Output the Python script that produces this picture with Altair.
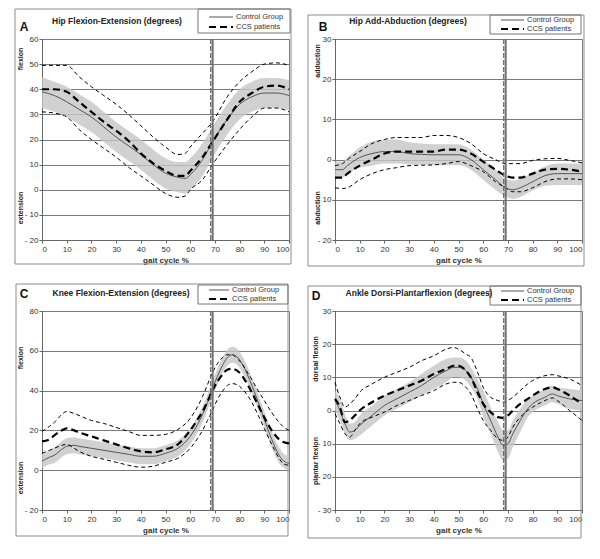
import altair as alt
import pandas as pd

FONT = "Liberation Sans"

# ---------------- Panel A: Hip Flexion-Extension ----------------
a_x = [0, 5, 10, 15, 20, 25, 30, 35, 40, 45, 50, 55, 58, 60, 65, 69, 75, 80, 85, 90, 95, 100]
a_ctrl_mean = [39, 37.5, 35, 32, 29, 25, 21, 17.5, 14, 10, 6.6, 5, 4.5, 6, 12, 19, 28, 34, 37, 38.5, 38.5, 37.5]
a_ctrl_hi = [44.8, 43, 41, 38, 35, 31, 27, 23.5, 20, 16, 12.5, 11, 11, 12.5, 18.5, 25, 34, 40, 43, 44.5, 44.5, 43.5]
a_ctrl_lo = [32.5, 31, 29, 26, 23, 19, 15, 11.5, 8, 4, 0.5, -1, -1.5, 0, 5.5, 12.5, 22, 28, 31, 32.5, 32.5, 31.5]
a_ccs_mean = [40, 40, 39, 35, 31, 27, 23.5, 19.5, 14.5, 10.5, 7.5, 5.5, 5.5, 7.5, 13, 19, 28, 35, 38.5, 41, 41.5, 40]
a_ccs_hi = [49.5, 49.5, 49.5, 45, 41, 37.5, 34, 30, 25.5, 21, 17, 14, 14.5, 17, 22.5, 27, 37, 43, 47, 50, 50.5, 49.5]
a_ccs_lo = [31, 30.5, 29, 24, 20, 16.5, 13, 9, 5.5, 2, -1.5, -3, -2.5, 0, 4, 10, 18, 24, 29, 32.5, 32.5, 31]

# ---------------- Panel B: Hip Add-Abduction ----------------
b_x = [0, 3, 5, 10, 15, 20, 25, 30, 35, 40, 45, 50, 55, 60, 65, 69, 72, 75, 80, 85, 90, 95, 100]
b_ctrl_mean = [-2.5, -2.5, -1.5, 0.5, 1.5, 2, 2, 1.5, 1.3, 1.2, 1.2, 1.2, 0, -2.5, -5, -7, -7.5, -7, -5.5, -4, -3.5, -3.5, -3.5]
b_ctrl_hi = [-0.5, -0.5, 0.5, 3, 4.5, 5, 5, 4.3, 4, 3.8, 3.8, 3.8, 2.5, 0, -2.5, -4.8, -5.2, -4.8, -3.3, -1.7, -1, -1, -1]
b_ctrl_lo = [-4.5, -4.5, -3.5, -2, -1.5, -1, -1, -1.2, -1.3, -1.4, -1.4, -1.4, -2.5, -5, -7.5, -9.2, -9.8, -9.3, -7.7, -6.5, -6.3, -6.3, -6.3]
b_ccs_mean = [-4.5, -4.5, -3.5, -1.5, 0, 1.5, 2, 2, 2, 2, 2.5, 2.5, 1.5, -0.5, -2.5, -4, -4.5, -4.5, -3.5, -2.5, -2.3, -2.5, -3]
b_ccs_hi = [-1.5, -1, 0, 2, 4, 5, 5.5, 5.5, 5.5, 6, 6, 5.5, 4, 1.5, 0, -1, -1, -1, -0.2, 0.2, 0.3, -0.2, -0.8]
b_ccs_lo = [-7, -7.2, -7, -5, -3.5, -2.5, -2, -1.5, -1.4, -1.3, -1, -0.5, -1.5, -3, -5.5, -7, -8, -8, -7, -5.5, -4.8, -4.8, -5]

# ---------------- Panel C: Knee Flexion-Extension ----------------
c_x = [0, 3, 5, 8, 10, 13, 15, 20, 25, 30, 35, 40, 45, 50, 55, 60, 63, 65, 67, 69, 71, 73, 75, 77, 79, 81, 83, 85, 87, 90, 93, 96, 98, 100]
c_ctrl_mean = [4.5, 6.5, 7.5, 10.5, 12, 12.5, 12, 11, 10, 9, 8, 7, 7, 8.5, 11, 17, 23, 28, 34, 41, 47, 52.5, 56.5, 58, 57, 53.5, 48.5, 42.5, 36, 25.5, 15.5, 7.5, 4.5, 3.5]
c_ctrl_hi = [8, 10, 11.5, 14.5, 16, 16.5, 16, 15, 14, 13, 12, 11, 11, 12.5, 15, 21, 27, 32, 38, 45, 51, 56.5, 60.5, 62, 61, 57.5, 52.5, 46.5, 40, 29.5, 19.5, 11.5, 8, 7]
c_ctrl_lo = [1, 3, 3.5, 6.5, 8, 8.5, 8, 7, 6, 5, 4, 3, 3, 4.5, 7, 13, 19, 24, 30, 37, 43, 48.5, 52.5, 54, 53, 49.5, 44.5, 38.5, 32, 21.5, 11.5, 3.5, 1, 0]
c_ccs_mean = [14.5, 15.5, 17.5, 20, 21, 20, 19, 17, 15, 13, 11, 9.5, 9, 10.5, 13, 20, 25.5, 29.5, 34.5, 40, 44.5, 48, 50.5, 51, 50, 47.5, 43.5, 39, 34, 26.5, 20, 15.5, 14, 13.5]
c_ccs_hi = [19.5, 22, 24, 28, 29.5, 28.5, 27.5, 25, 23.5, 21.5, 19.5, 17.5, 17.5, 18, 20.5, 26, 32, 37, 43, 49, 53.5, 56.5, 58, 58, 56, 53.5, 49.5, 45.5, 41, 35, 29, 24, 21.5, 20]
c_ccs_lo = [8.5, 10, 11, 12.5, 13, 11, 9.5, 7, 5.5, 4, 2.5, 1.5, 2, 4, 6, 11, 16, 20, 25, 30, 35.5, 39.5, 42.5, 43.5, 43, 41, 38, 34, 29, 21, 13, 6, 3, 2.5]

# ---------------- Panel D: Ankle Dorsi-Plantarflexion ----------------
d_x = [0, 2, 4, 6, 8, 10, 15, 20, 25, 30, 35, 40, 45, 48, 50, 53, 55, 58, 60, 63, 66, 68, 70, 72, 75, 78, 80, 85, 88, 90, 95, 100]
d_ctrl_mean = [3, 0, -4, -6.5, -6, -4.5, -1.5, 1.5, 3.5, 5.5, 7.5, 10, 12, 13, 13, 12, 10, 6, 2, -3, -8, -10.5, -10, -7, -3, 0.5, 2, 4, 5, 4.5, 3.5, 3]
d_ctrl_hi = [6, 3.5, -1, -4, -3.5, -1.5, 1.5, 4.5, 6.5, 8.5, 11, 13.5, 15.5, 16, 16, 15, 13, 9, 6, 1, -3.5, -6, -6, -3, 0.5, 3.5, 4.5, 6.5, 7.5, 7, 6.5, 6]
d_ctrl_lo = [0, -3, -7, -9, -8.5, -7.5, -4.5, -1.5, 0.5, 2.5, 4.5, 6.5, 8.5, 10, 10, 9, 7, 3, -2, -7, -12.5, -15, -14.5, -11, -6.5, -2, -0.5, 1.5, 2.5, 2, 0.5, 0]
d_ccs_mean = [3.5, 1, -3.5, -3, -1.5, 0, 2.5, 4.5, 6, 7.5, 9, 11, 12.5, 13.5, 13.5, 12, 10, 5, 2, -0.5, -2, -2.2, -1.5, 0, 2, 3.5, 4.5, 6.5, 7, 6.5, 4.5, 2]
d_ccs_hi = [8.5, 4, 1, 2, 3.5, 5.5, 8, 10, 11.5, 13, 15, 16.5, 18.5, 19, 18.5, 17, 16, 11, 7, 4, 3, 2.5, 3, 4, 6, 8, 9, 10.5, 10.8, 10.5, 9.5, 7.5]
d_ccs_lo = [-1, -4, -7, -8, -6, -4, -2, -0.5, 1.5, 3, 4.5, 6, 8, 8.5, 8.5, 7, 5, 0, -3, -6, -8.5, -9, -8, -5, -2, 0, 1, 3, 3.8, 3, 0, -3]

toe_off_dashed = [68.3]
toe_off_solid = [69.1]

x_ticks = [0, 10, 20, 30, 40, 50, 60, 70, 80, 90, 100]
legend_labels = ["Control Group", "CCS patients"]


def one_row():
    return alt.Data(values=[{"k": 1}])


def panel(letter, title, x, cm, chi, clo, pm, phi, plo, ydom, ystep,
          side_top, side_bot, W, H, g):
    df = pd.DataFrame(dict(x=x, cm=cm, chi=chi, clo=clo, pm=pm, phi=phi, plo=plo))
    xaxis = alt.Axis(values=x_ticks, grid=False, title="gait cycle %", labelOverlap=False,
                     labelFontSize=8, labelPadding=2, tickSize=3,
                     titleFontSize=8, titleFontWeight="bold", titlePadding=3,
                     titleColor="#333333")
    xscale = alt.Scale(domain=[0, 100], nice=False, zero=False)
    yvals = list(range(ydom[0], ydom[1] + 1, ystep))
    yaxis = alt.Axis(values=yvals, grid=True, gridColor="#7a7a7a", gridWidth=1, title=None,
                     labelOverlap=False, labelFontSize=8, labelPadding=1, tickSize=3,
                     labelExpr="datum.value < 0 ? '- ' + abs(datum.value) : datum.label")
    yscale = alt.Scale(domain=ydom, nice=False, zero=False)

    def X(f="x"):
        return alt.X(f + ":Q", scale=xscale, axis=xaxis)

    def Y(f):
        return alt.Y(f + ":Q", scale=yscale, axis=yaxis)

    base = alt.Chart(df)
    band = base.mark_area(color="#c6c6c6", opacity=0.8, interpolate="monotone").encode(
        x=X(), y=Y("clo"), y2="chi:Q")
    ctrl = base.mark_line(color="#555555", strokeWidth=1, interpolate="monotone").encode(
        x=X(), y=Y("cm"))
    ccs_hi = base.mark_line(color="#000000", strokeWidth=1, strokeDash=[4, 3],
                            interpolate="monotone").encode(x=X(), y=Y("phi"))
    ccs_lo = base.mark_line(color="#000000", strokeWidth=1, strokeDash=[4, 3],
                            interpolate="monotone").encode(x=X(), y=Y("plo"))
    ccs = base.mark_line(color="#000000", strokeWidth=2.2, strokeDash=[7, 4],
                         interpolate="monotone").encode(x=X(), y=Y("pm"))

    vdash = alt.Chart(pd.DataFrame({"x": toe_off_dashed})).mark_rule(
        color="#6a6a6a", strokeWidth=1.3, strokeDash=[5, 2]).encode(x=X())
    vsolid = alt.Chart(pd.DataFrame({"x": toe_off_solid})).mark_rule(
        color="#707070", strokeWidth=2).encode(x=X())

    def txt(t, x, y, size, weight="normal", align="center", angle=0, color="#222222"):
        kw = dict(text=t, fontSize=size, fontWeight=weight, align=align,
                  baseline="middle", font=FONT, color=color)
        if angle:
            kw["angle"] = angle
        return alt.Chart(one_row()).mark_text(**kw).encode(x=alt.value(x), y=alt.value(y))

    def rect(x1, x2, y1, y2, stroke="#8a8a8a", width=1):
        return alt.Chart(one_row()).mark_rect(fill="white", fillOpacity=0, stroke=stroke,
                                              strokeWidth=width).encode(
            x=alt.value(x1), x2=alt.value(x2), y=alt.value(y1), y2=alt.value(y2))

    frame = rect(*g["frame"], stroke="#8c8c8c", width=1)
    lbox = rect(*g["lbox"], stroke="#777777", width=1)
    lx1, lx2 = g["lline"]
    ly1, ly2 = g["lrows"]
    leg1 = alt.Chart(one_row()).mark_rule(color="#555555", strokeWidth=1).encode(
        x=alt.value(lx1), x2=alt.value(lx2), y=alt.value(ly1))
    leg2 = alt.Chart(one_row()).mark_rule(color="#000000", strokeWidth=2.2,
                                          strokeDash=[7, 4]).encode(
        x=alt.value(lx1), x2=alt.value(lx2), y=alt.value(ly2))

    layers = [frame, band, ctrl, ccs_hi, ccs_lo, ccs, vdash, vsolid, lbox, leg1, leg2,
              txt(legend_labels[0], g["ltext"], ly1, 7.5, align="left", color="#333333"),
              txt(legend_labels[1], g["ltext"], ly2, 7.5, align="left", color="#333333"),
              txt(title, g["title"][0], g["title"][1], 8.5, weight="bold"),
              txt(letter, g["letter"][0], g["letter"][1], 12, weight="bold", color="#111111"),
              txt(side_top, g["side"][0], g["side"][1], 7, weight="bold", angle=270),
              txt(side_bot, g["side"][0], g["side"][2], 7, weight="bold", angle=270)]
    return alt.layer(*layers).properties(width=W, height=H)


A = panel("A", "Hip Flexion-Extension (degrees)", a_x, a_ctrl_mean, a_ctrl_hi, a_ctrl_lo,
          a_ccs_mean, a_ccs_hi, a_ccs_lo, [-20, 60], 10, "flexion", "extension", 247, 201,
          dict(frame=(-27, 249, -30, 225), lbox=(156, 248, -30, -6), lline=(167, 191),
               lrows=(-22, -12), ltext=194, title=(75, -18), letter=(-18, -12),
               side=(-21, 20, 169)))
B = panel("B", "Hip Add-Abduction (degrees)", b_x, b_ctrl_mean, b_ctrl_hi, b_ctrl_lo,
          b_ccs_mean, b_ccs_hi, b_ccs_lo, [-20, 30], 10, "adduction", "abduction", 247, 201,
          dict(frame=(-27, 249, -24, 227), lbox=(155, 246, -24, -5), lline=(166, 189),
               lrows=(-19, -10), ltext=192, title=(73, -18), letter=(-12, -12),
               side=(-17, 22, 169)))
C = panel("C", "Knee Flexion-Extension (degrees)", c_x, c_ctrl_mean, c_ctrl_hi, c_ctrl_lo,
          c_ccs_mean, c_ccs_hi, c_ccs_lo, [-20, 80], 20, "flexion", "extension", 247, 199,
          dict(frame=(-26, 246, -27, 225), lbox=(156, 246, -26, -7), lline=(167, 187),
               lrows=(-21, -12), ltext=190, title=(79, -18), letter=(-18, -17),
               side=(-21, 47, 167)))
D = panel("D", "Ankle Dorsi-Plantarflexion (degrees)", d_x, d_ctrl_mean, d_ctrl_hi, d_ctrl_lo,
          d_ccs_mean, d_ccs_hi, d_ccs_lo, [-30, 30], 10, "dorsal flexion", "plantar flexion",
          247, 199,
          dict(frame=(-27, 246, -25, 227), lbox=(155, 246, -25, -6), lline=(166, 189),
               lrows=(-20, -11), ltext=192, title=(84, -18), letter=(-19, -15),
               side=(-19, 48, 150)))

chart = alt.concat(A, B, C, D, columns=2, spacing={"row": 71, "column": 46}).properties(
    bounds="flush",
    padding={"left": 6, "top": 0, "right": 0, "bottom": 0},
    background="white",
).configure_view(stroke="#808080", strokeWidth=1).configure_axis(
    labelFont=FONT, titleFont=FONT, labelColor="#333333", domainColor="#666666",
    tickColor="#666666"
)

chart.save("out.html", embed_options={"renderer": "svg", "actions": False})
